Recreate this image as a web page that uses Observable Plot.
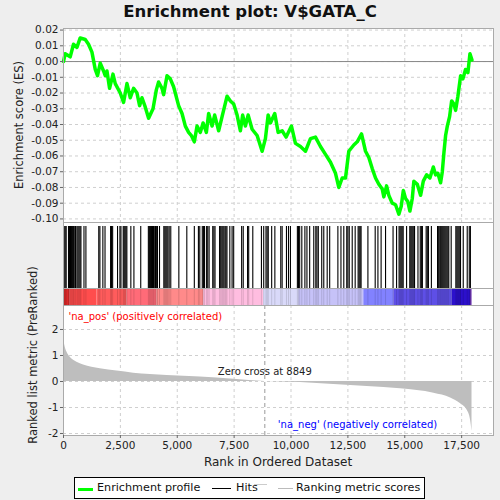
<!DOCTYPE html>
<html><head><meta charset="utf-8">
<script src="https://cdn.jsdelivr.net/npm/d3@7"></script>
<script src="https://cdn.jsdelivr.net/npm/@observablehq/plot@0.6"></script>
<style>
body{margin:0;background:#eeeeee;}
#root{position:relative;width:500px;height:500px;background:#eeeeee;font-family:"DejaVu Sans",sans-serif;overflow:hidden;}
.abs{position:absolute;}
.title{left:0;width:500px;top:2px;text-align:center;font-size:16.5px;font-weight:bold;color:#111;}
.ylab{font-size:11.5px;color:#222;white-space:nowrap;transform:translate(-50%,-50%) rotate(-90deg);}
.xlab{font-size:12px;color:#222;white-space:nowrap;transform:translate(-50%,-50%);}
#legend{left:74px;top:477px;width:349px;height:20px;border:1px solid #000;background:#fff;font-size:11.2px;color:#111;}
#legend span{position:absolute;top:3px;white-space:nowrap;}
#legend i{position:absolute;display:block;height:0;}
</style></head>
<body><div id="root">
<div class="abs title">Enrichment plot: V$GATA_C</div>
<div class="abs ylab" style="left:19px;top:125px;">Enrichment score (ES)</div>
<div class="abs ylab" style="left:33px;top:355px;">Ranked list metric (PreRanked)</div>
<div class="abs xlab" style="left:278px;top:462px;">Rank in Ordered Dataset</div>
<div class="abs" id="p1" style="left:0;top:0;"></div>
<div class="abs" id="p2" style="left:0;top:222px;"></div>
<div class="abs" id="p3" style="left:0;top:305px;"></div>
<div class="abs" id="legend">
  <i style="left:3px;width:15px;top:10px;border-top:3px solid #00ff00;"></i>
  <span style="left:22px;">Enrichment profile</span>
  <i style="left:137px;width:19px;top:10px;border-top:1.5px solid #000;"></i>
  <span style="left:161px;">Hits</span>
  <i style="left:179px;width:13px;top:6px;border-top:1px solid #ccc;"></i>
  <i style="left:203px;width:15px;top:10px;border-top:1.5px solid #bbb;"></i>
  <span style="left:221px;">Ranking metric scores</span>
</div>
</div>
<script>
// ---- data ----
const datasetSize = 17955;
const zeroCross = 8849;
const xTicks = [0, 2500, 5000, 7500, 10000, 12500, 15000, 17500];
const esTicks = [0.02, 0.01, 0, -0.01, -0.02, -0.03, -0.04, -0.05, -0.06, -0.07, -0.08, -0.09, -0.10];
const metricTicks = [-2, -1, 0, 1, 2];

const esRank = [0,75,295,440,590,735,955,1100,1250,1395,1495,1615,1760,1835,1910,2025,2175,2275,2495,2640,2790,2935,3080,3230,3345,3450,3595,3740,3935,4080,4180,4330,4400,4550,4695,4840,5060,5210,5355,5500,5620,5750,5870,6015,6135,6280,6380,6530,6645,6820,6970,7190,7335,7480,7630,7775,7875,7995,8115,8290,8510,8730,8875,8995,9095,9285,9435,9610,9785,10020,10195,10415,10635,10855,11075,11295,11515,11735,11955,12100,12250,12395,12540,12760,12910,13100,13275,13420,13570,13715,13860,14010,14080,14200,14300,14450,14595,14740,14845,14935,15035,15135,15225,15330,15400,15550,15695,15815,15960,16105,16255,16355,16455,16575,16650,16720,16795,16870,16970,17060,17160,17235,17335,17455,17555,17670,17775,17865,17955];
const esValue = [0,0.005,0.003,0.011,0.009,0.015,0.014,0.011,0.006,-0.005,-0.009,-0.001,-0.006,-0.009,-0.006,-0.017,-0.008,-0.014,-0.020,-0.026,-0.014,-0.023,-0.017,-0.020,-0.028,-0.023,-0.029,-0.036,-0.030,-0.018,-0.013,-0.017,-0.021,-0.009,-0.011,-0.016,-0.028,-0.033,-0.041,-0.045,-0.047,-0.051,-0.041,-0.045,-0.039,-0.045,-0.033,-0.041,-0.034,-0.044,-0.035,-0.022,-0.025,-0.027,-0.034,-0.044,-0.034,-0.041,-0.034,-0.043,-0.047,-0.057,-0.049,-0.034,-0.039,-0.033,-0.045,-0.044,-0.048,-0.041,-0.052,-0.054,-0.057,-0.049,-0.048,-0.054,-0.059,-0.064,-0.071,-0.080,-0.074,-0.074,-0.057,-0.053,-0.051,-0.046,-0.057,-0.061,-0.068,-0.074,-0.078,-0.081,-0.086,-0.079,-0.085,-0.090,-0.091,-0.097,-0.092,-0.082,-0.087,-0.089,-0.095,-0.087,-0.076,-0.078,-0.085,-0.076,-0.072,-0.074,-0.067,-0.072,-0.071,-0.077,-0.070,-0.058,-0.047,-0.041,-0.035,-0.025,-0.027,-0.031,-0.022,-0.009,-0.011,-0.005,-0.007,0.005,0.001];

const hitRanks = [30,75,118,220,265,310,355,400,445,471,530,590,635,680,725,766,900,985,1550,1600,1730,1825,2070,2110,2160,2375,2480,2525,2625,2665,2705,2745,2785,2960,3095,3395,3730,3775,3820,3865,3910,3955,3990,4045,4095,4130,4220,4410,4455,4500,4545,4590,4645,4715,5070,5420,5750,5930,5990,6100,6150,6200,6290,6340,6400,6560,6610,6660,6860,6910,6960,7005,7050,7100,7140,7185,7310,7410,7480,7830,7900,8090,8140,8320,8700,8800,8900,8950,9000,9150,9290,9550,9610,9800,9890,9975,10280,10330,10380,10475,10610,10700,10820,11000,11090,11140,11200,11350,11440,11590,11700,12060,12195,12320,12450,12500,12560,12690,12820,12950,12995,13040,13080,13380,13700,13820,13960,14155,14485,14640,14750,14795,14840,14885,14930,15080,15220,15265,15310,15355,15400,15430,15580,15680,15730,15775,15940,15990,16040,16170,16440,16490,16540,16580,16625,16670,16715,16760,16805,16850,16895,16935,17040,17245,17290,17335,17380,17425,17450,17570,17745,17835,17885];

const metricRank = [0,75,150,295,590,880,1615,2350,3080,4550,6015,7480,8849,10415,11880,13350,14815,16280,17015,17455,17750,17895,17955];
const metricValue = [1.64,1.32,1.13,0.93,0.74,0.63,0.49,0.40,0.32,0.23,0.17,0.09,0,-0.04,-0.12,-0.19,-0.28,-0.45,-0.63,-0.86,-1.12,-1.50,-1.91];

const bandStart = [0,295,1470,2790,4110,6160,8800,10340,13200,14520,17090,17895];
const bandColor = ["#dc2a2a","#ff4d4d","#ff5c5c","#ff6b78","#ff8a8a","#ffbde0","#d9d9f9","#c6c2f8","#8282ff","#5e4fe6","#2c10cc","#5a1aa8"];

// ---- tables built from the arrays ----
const esData = esRank.map((r, i) => ({rank: r, es: esValue[i]}));
const metricData = metricRank.map((r, i) => ({rank: r, m: metricValue[i]}));
const bandData = bandStart.map((s, i) => ({x1: s, x2: i + 1 < bandStart.length ? bandStart[i + 1] : datasetSize, color: bandColor[i]}));

const FONT = "DejaVu Sans, sans-serif";
const xDomain = [0, 18900];
const common = {width: 500, marginLeft: 63, marginRight: 7, style: {background: "transparent", fontFamily: FONT, fontSize: "10.5px", color: "#222"}};
const hyphen = (s) => String(s).replace("\u2212", "-");
const grid = {stroke: "#cfcfcf", strokeOpacity: 1, strokeDasharray: "3,3"};

// Panel 1: enrichment score
const p1 = Plot.plot({
  ...common, height: 224, marginTop: 28, marginBottom: 1,
  x: {domain: xDomain, axis: null},
  y: {domain: [-0.1029, 0.021]},
  marks: [
    Plot.frame({fill: "white", stroke: null}),
    Plot.gridX(xTicks, grid),
    Plot.gridY(esTicks, grid),
    Plot.ruleY([0], {stroke: "#888", strokeWidth: 1}),
    Plot.line(esData, {x: "rank", y: "es", stroke: "#00ff00", strokeWidth: 3.5, strokeLinejoin: "round"}),
    Plot.frame({stroke: "#aaa"}),
    Plot.axisY(esTicks, {tickFormat: d => hyphen(d.toFixed(2)), tickSize: 3, tickPadding: 2, label: null, stroke: "#666"})
  ]
});
document.getElementById("p1").append(p1);

// Panel 2: hits and ranked-list colour band
const p2 = Plot.plot({
  ...common, height: 84, marginTop: 0, marginBottom: 0,
  x: {domain: xDomain, axis: null},
  y: {domain: [0, 84], axis: null},
  marks: [
    Plot.frame({fill: "white", stroke: null}),
    Plot.ruleX(hitRanks, {x: d => d, y1: 18, y2: 80, stroke: "black", strokeWidth: 1.1}),
    Plot.rect(bandData, {x1: "x1", x2: "x2", y1: 0.5, y2: 18, fill: "color"}),
    Plot.ruleX(hitRanks, {x: d => d, y1: 0.5, y2: 18, stroke: "black", strokeOpacity: 0.13, strokeWidth: 1}),
    Plot.ruleY([18], {stroke: "#aaa"}),
    Plot.frame({stroke: "#aaa"})
  ]
});
document.getElementById("p2").append(p2);

// Panel 3: ranked list metric
const p3 = Plot.plot({
  ...common, height: 170, marginTop: 0, marginBottom: 40,
  x: {domain: xDomain},
  y: {domain: [-2.077, 2.923]},
  marks: [
    Plot.frame({fill: "white", stroke: null}),
    Plot.gridX(xTicks, grid),
    Plot.gridY(metricTicks, grid),
    Plot.areaY(metricData, {x: "rank", y: "m", fill: "#bebebe", curve: "monotone-x"}),
    Plot.ruleX([zeroCross], {stroke: "#999", strokeDasharray: "4,3"}),
    Plot.text(["'na_pos' (positively correlated)"], {frameAnchor: "top-left", dx: 5, dy: 7, fill: "#ff0000", textAnchor: "start", fontSize: 10}),
    Plot.text(["Zero cross at " + zeroCross], {x: () => zeroCross, frameAnchor: "middle", dy: 1, fill: "#222", fontSize: 10}),
    Plot.text(["'na_neg' (negatively correlated)"], {x: () => zeroCross, frameAnchor: "bottom", dx: 13, dy: -8, textAnchor: "start", fill: "#0000ff", fontSize: 10}),
    Plot.frame({stroke: "#aaa"}),
    Plot.axisY(metricTicks, {tickFormat: d => hyphen(d), tickSize: 3, tickPadding: 2, label: null, stroke: "#666"}),
    Plot.axisX(xTicks, {tickFormat: d3.format(","), tickSize: 3, tickPadding: 3, label: null, stroke: "#666"})
  ]
});
document.getElementById("p3").append(p3);
</script>
</body></html>
